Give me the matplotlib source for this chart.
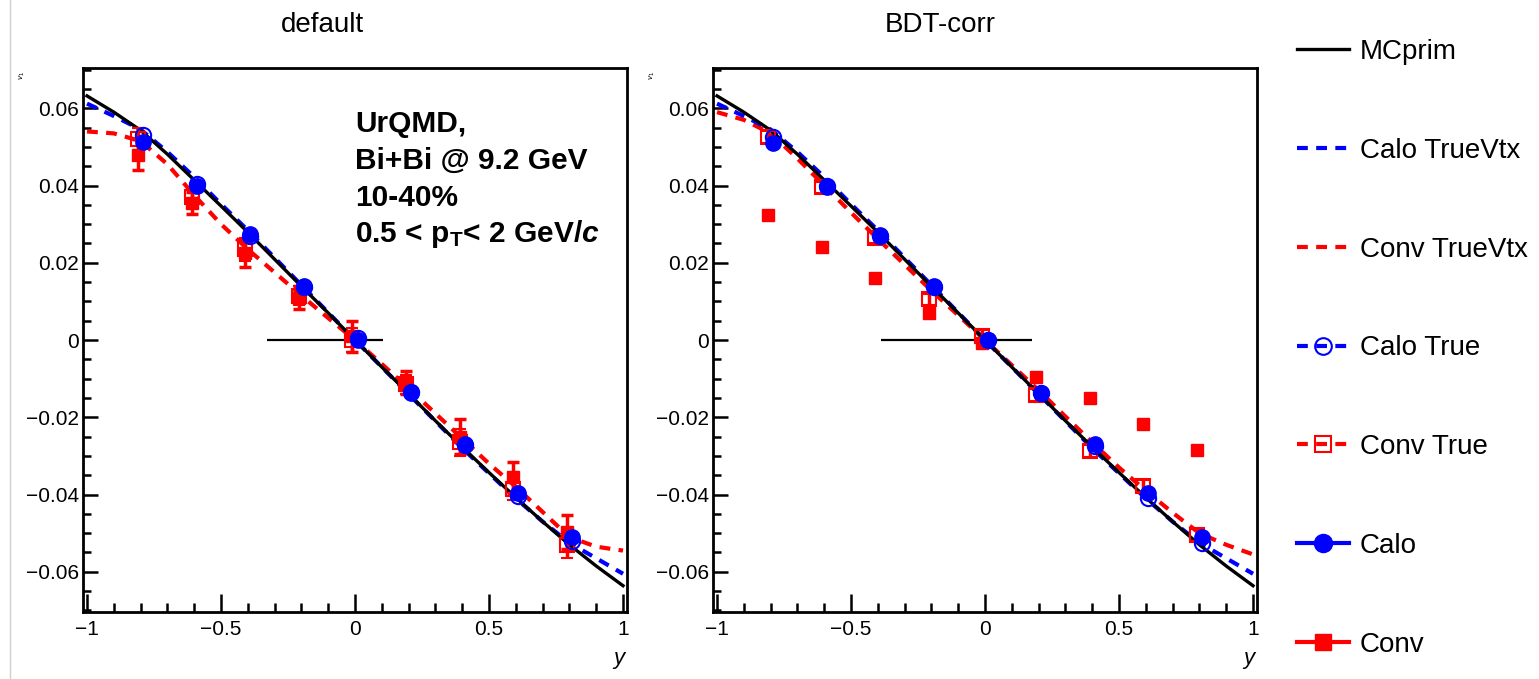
import matplotlib
matplotlib.use('Agg')
import matplotlib.pyplot as plt
from matplotlib.lines import Line2D
from matplotlib.ticker import MultipleLocator, FuncFormatter

plt.rcParams['font.family'] = ['Liberation Sans', 'DejaVu Sans']
plt.rcParams['mathtext.fontset'] = 'custom'
plt.rcParams['mathtext.rm'] = 'Liberation Sans'
plt.rcParams['mathtext.it'] = 'Liberation Sans:italic'
plt.rcParams['mathtext.bf'] = 'Liberation Sans:bold'
plt.rcParams['mathtext.bfit'] = 'Liberation Sans:bold:italic'

# ---- data ----
panel_titles = ['default', 'BDT-corr']

# fit curves, sampled every 0.1 in y
curve_x = [-1.0, -0.9, -0.8, -0.7, -0.6, -0.5, -0.4, -0.3, -0.2, -0.1, 0.0,
           0.1, 0.2, 0.3, 0.4, 0.5, 0.6, 0.7, 0.8, 0.9, 1.0]
mcprim = [0.0632, 0.0590, 0.0543, 0.0481, 0.0414, 0.0347, 0.0279, 0.0209, 0.0139, 0.0070, 0.0,
          -0.0070, -0.0139, -0.0209, -0.0277, -0.0343, -0.0408, -0.0470, -0.0530, -0.0585, -0.0636]
calo_truevtx = [0.0612, 0.0580, 0.0545, 0.0487, 0.0422, 0.0352, 0.0284, 0.0213, 0.0142, 0.0071, 0.0,
                -0.0070, -0.0140, -0.0210, -0.0280, -0.0345, -0.0410, -0.0470, -0.0525, -0.0565, -0.0605]
conv_truevtx_def = [0.0540, 0.0535, 0.0515, 0.0455, 0.0375, 0.0300, 0.0235, 0.0175, 0.0115, 0.0057, 0.0,
                    -0.0062, -0.0125, -0.0190, -0.0255, -0.0320, -0.0380, -0.0445, -0.0510, -0.0535, -0.0545]
conv_truevtx_bdt = [0.0590, 0.0570, 0.0535, 0.0470, 0.0400, 0.0330, 0.0262, 0.0195, 0.0128, 0.0064, 0.0,
                    -0.0065, -0.0130, -0.0198, -0.0265, -0.0330, -0.0390, -0.0447, -0.0500, -0.0530, -0.0555]

# points
calo_x = [-0.79, -0.59, -0.39, -0.19, 0.01, 0.21, 0.41, 0.61, 0.81]
conv_x = [-0.81, -0.61, -0.41, -0.21, -0.01, 0.19, 0.39, 0.59, 0.79]

calo_def = [0.0512, 0.0400, 0.0275, 0.0140, 0.0, -0.0137, -0.0269, -0.0396, -0.0510]
calo_true_def = [0.0530, 0.0405, 0.0270, 0.0138, 0.0005, -0.0135, -0.0272, -0.0405, -0.0520]
conv_def = [0.0480, 0.0355, 0.0225, 0.0110, 0.0010, -0.0110, -0.0250, -0.0355, -0.0497]
conv_def_err = [0.0040, 0.0028, 0.0035, 0.0030, 0.0040, 0.0030, 0.0045, 0.0040, 0.0045]
conv_true_def = [0.0520, 0.0370, 0.0235, 0.0115, 0.0, -0.0115, -0.0265, -0.0385, -0.0530]
conv_true_def_err = [0.0030, 0.0025, 0.0030, 0.0025, 0.0030, 0.0025, 0.0035, 0.0030, 0.0035]

calo_bdt = [0.0510, 0.0395, 0.0272, 0.0140, 0.0, -0.0137, -0.0270, -0.0396, -0.0510]
calo_true_bdt = [0.0525, 0.0400, 0.0270, 0.0138, 0.0, -0.0138, -0.0275, -0.0410, -0.0525]
conv_bdt = [0.0325, 0.0241, 0.0160, 0.0069, -0.0008, -0.0095, -0.0150, -0.0217, -0.0285]
conv_true_bdt = [0.0525, 0.0395, 0.0265, 0.0105, 0.0010, -0.0142, -0.0288, -0.0378, -0.0505]
conv_true_bdt_err = [0.0015, 0.0015, 0.0015, 0.0015, 0.0015, 0.0015, 0.0015, 0.0015, 0.0015]

# horizontal black segment at v1 = 0
zero_seg = [[-0.33, 0.105], [-0.387, 0.177]]

panels = [
    dict(calo=calo_def, calo_true=calo_true_def, conv=conv_def, conv_err=conv_def_err,
         conv_true=conv_true_def, conv_true_err=conv_true_def_err, conv_vtx=conv_truevtx_def),
    dict(calo=calo_bdt, calo_true=calo_true_bdt, conv=conv_bdt, conv_err=None,
         conv_true=conv_true_bdt, conv_true_err=conv_true_bdt_err, conv_vtx=conv_truevtx_bdt),
]

BLUE = '#0000ff'
RED = '#ff0000'
DASH = (0, (2.6, 2.0))


def fmt(v, pos):
    if abs(v) < 1e-9:
        return '0'
    return ('%g' % v).replace('-', '\u2212')


fig = plt.figure(figsize=(15.39, 6.79), dpi=100)
ax_lefts = [83 / 1539, 713 / 1539]
title_x = [322 / 1539, 940 / 1539]

for i, p in enumerate(panels):
    ax = fig.add_axes([ax_lefts[i], 0.0987, 0.3535, 0.801])
    ax.set_xlim(-1.015, 1.015)
    ax.set_ylim(-0.0704, 0.0704)

    ax.hlines(0, zero_seg[i][0], zero_seg[i][1], color='black', lw=1.6, zorder=2)

    ax.plot(curve_x, p['conv_vtx'], color=RED, lw=3, ls=DASH, zorder=3)
    ax.plot(curve_x, calo_truevtx, color=BLUE, lw=3, ls=DASH, zorder=3)
    ax.plot(curve_x, mcprim, color='black', lw=2.4, zorder=4)

    ax.errorbar(conv_x, p['conv_true'], yerr=p['conv_true_err'], fmt='s', ms=10,
                mfc='none', mec=RED, mew=1.5, ecolor=RED, elinewidth=2.5,
                capsize=4, capthick=2.5, zorder=5)
    ax.errorbar(conv_x, p['conv'], yerr=p['conv_err'], fmt='s', ms=9,
                color=RED, ecolor=RED, elinewidth=2.5, capsize=4, capthick=2.5, zorder=6)
    ax.plot(calo_x, p['calo_true'], 'o', ms=11, mfc='none', mec=BLUE, mew=1.5, zorder=7)
    ax.plot(calo_x, p['calo'], 'o', ms=11, color=BLUE, zorder=8)

    ax.xaxis.set_major_locator(MultipleLocator(0.5))
    ax.xaxis.set_minor_locator(MultipleLocator(0.1))
    ax.yaxis.set_major_locator(MultipleLocator(0.02))
    ax.yaxis.set_minor_locator(MultipleLocator(0.005))
    ax.xaxis.set_major_formatter(FuncFormatter(fmt))
    ax.yaxis.set_major_formatter(FuncFormatter(fmt))
    ax.tick_params(axis='both', which='both', direction='in', top=False, right=False,
                   width=1.8, labelsize=15)
    ax.tick_params(axis='x', which='major', length=13, pad=6)
    ax.tick_params(axis='x', which='minor', length=6.5)
    ax.tick_params(axis='y', which='major', length=11, pad=3)
    ax.tick_params(axis='y', which='minor', length=5.5)
    for s in ax.spines.values():
        s.set_linewidth(2)

    fig.text(title_x[i], 0.963, panel_titles[i], ha='center', va='center', fontsize=20)
    fig.text((ax_lefts[i] * 1539 - 61) / 1539, 1 - 75 / 679, r'$v_1$', rotation=90,
             ha='center', va='center', fontsize=6)
    ax.text(1.0, -0.07, r'$y$', transform=ax.transAxes, ha='right', va='top', fontsize=16)

    if i == 0:
        lines = ['UrQMD,', 'Bi+Bi @ 9.2 GeV', '10-40%',
                 r'0.5 < p$_{\mathbf{T}}$< 2 GeV/$\mathbfit{c}$']
        ys = [0.883, 0.815, 0.747, 0.681]
        for t, yy in zip(lines, ys):
            ax.text(0.5, yy, t, transform=ax.transAxes, fontsize=21.5, fontweight='bold',
                    ha='left', va='baseline')

# legend
handles = [
    Line2D([], [], color='black', lw=2.4),
    Line2D([], [], color=BLUE, lw=3, ls=DASH),
    Line2D([], [], color=RED, lw=3, ls=DASH),
    Line2D([], [], color=BLUE, lw=3, ls=DASH, marker='o', ms=12, mfc='none', mew=1.5),
    Line2D([], [], color=RED, lw=3, ls=DASH, marker='s', ms=11, mfc='none', mew=1.5),
    Line2D([], [], color=BLUE, lw=3, marker='o', ms=13),
    Line2D([], [], color=RED, lw=3, marker='s', ms=12),
]
labels = ['MCprim', 'Calo TrueVtx', 'Conv TrueVtx', 'Calo True', 'Conv True', 'Calo', 'Conv']
fig.legend(handles, labels, loc='upper left', bbox_to_anchor=(1297 / 1539, 1 - 39 / 679),
           frameon=False, fontsize=20, handlelength=1.87, handletextpad=0.4,
           labelspacing=2.62, borderpad=0, borderaxespad=0)

fig.add_artist(Line2D([10 / 1539, 10 / 1539], [0, 1], color='#d0d0d0', lw=1,
                      transform=fig.transFigure))

fig.savefig('out.png', dpi=100)
